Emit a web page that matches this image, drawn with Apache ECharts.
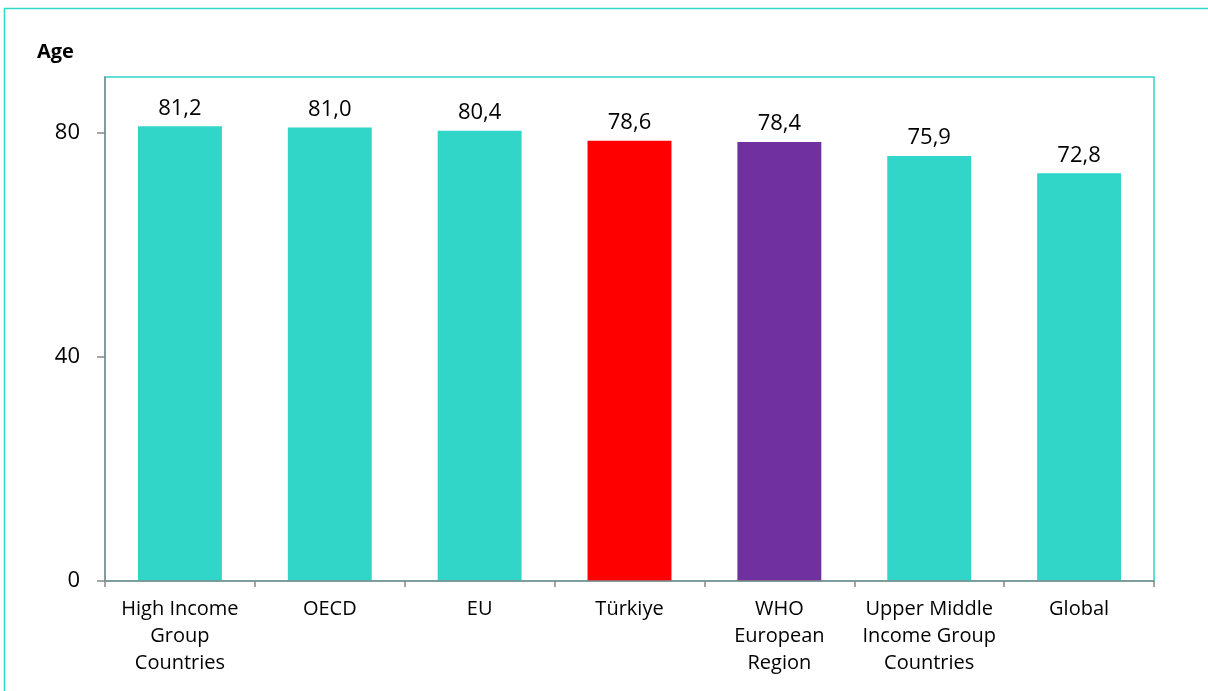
<!DOCTYPE html>
<html>
<head>
<meta charset="utf-8">
<script src="https://cdn.jsdelivr.net/npm/echarts@6/dist/echarts.min.js"></script>
<style>
  html, body { margin: 0; padding: 0; background: #fff; }
  #chart { width: 1208px; height: 691px; }
</style>
</head>
<body>
<div id="chart"></div>
<script>
// Life expectancy at birth by country group
const categories = [
  'High Income\nGroup\nCountries',
  'OECD',
  'EU',
  'Türkiye',
  'WHO\nEuropean\nRegion',
  'Upper Middle\nIncome Group\nCountries',
  'Global'
];
const lifeExpectancy = [81.2, 81.0, 80.4, 78.6, 78.4, 75.9, 72.8];
const barColors = ['#31D6C9', '#31D6C9', '#31D6C9', '#FF0000', '#7030A0', '#31D6C9', '#31D6C9'];
const yTickValues = [0, 40, 80];
const yRange = { min: 0, max: 90 };
const axisTitle = 'Age';

const TEAL = '#31D6C9';
const FONT = '"Open Sans", Lato, sans-serif';

const chart = echarts.init(document.getElementById('chart'), null, { renderer: 'canvas' });

chart.setOption({
  animation: false,
  backgroundColor: '#fff',
  title: {
    text: axisTitle,
    left: 32,
    top: 37,
    textStyle: { fontFamily: FONT, fontSize: 20, fontWeight: 'bold', color: '#000' }
  },
  graphic: [{
    type: 'rect',
    shape: { x: 4.5, y: 8.5, width: 1220, height: 700 },
    style: { fill: 'none', stroke: TEAL, lineWidth: 1.5 },
    silent: true
  }],
  grid: {
    left: 105, right: 54, top: 77, bottom: 110,
    show: true, borderColor: TEAL, borderWidth: 1.5, backgroundColor: 'transparent'
  },
  xAxis: {
    type: 'category',
    data: categories,
    axisLine: { show: true, lineStyle: { color: '#888', width: 1.5 } },
    axisTick: { show: true, length: 6, alignWithLabel: false, lineStyle: { color: '#888', width: 1.5 } },
    axisLabel: {
      interval: 0, margin: 15, fontFamily: FONT, fontSize: 20, color: '#000', lineHeight: 27
    },
    z: 5
  },
  yAxis: {
    type: 'value',
    min: yRange.min, max: yRange.max,
    axisLine: { show: true, lineStyle: { color: '#888', width: 1.5 } },
    axisTick: { show: true, length: 8, customValues: yTickValues, lineStyle: { color: '#888', width: 1.5 } },
    axisLabel: { margin: 25, customValues: yTickValues, fontFamily: FONT, fontSize: 22, color: '#000' },
    splitLine: { show: false },
    z: 5
  },
  series: [{
    type: 'bar',
    barWidth: '56%',
    data: lifeExpectancy.map((v, i) => ({ value: v, itemStyle: { color: barColors[i] } })),
    label: {
      show: true,
      position: 'top',
      distance: 7,
      fontFamily: FONT,
      fontSize: 22,
      color: '#000',
      formatter: p => p.value.toFixed(1).replace('.', ',')
    }
  }]
});
</script>
</body>
</html>
